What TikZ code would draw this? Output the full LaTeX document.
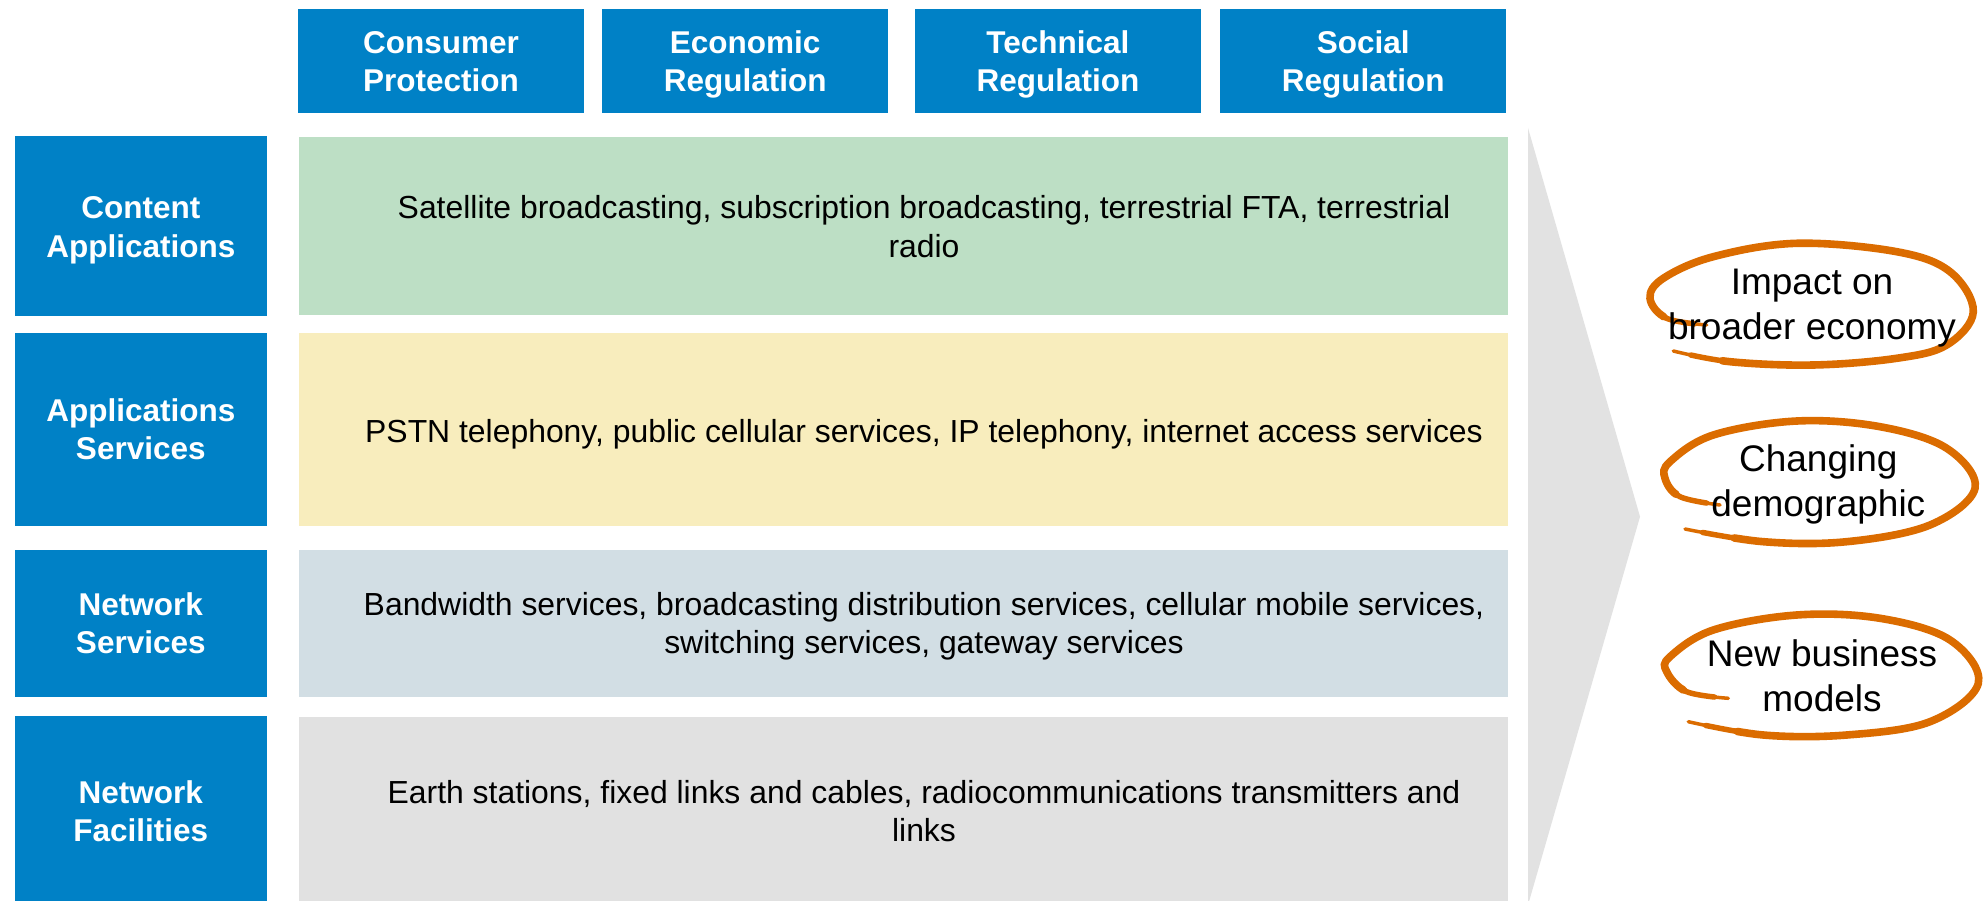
\documentclass[tikz,border=0pt]{standalone}
\usepackage{fontspec}
\setmainfont{Liberation Sans}
\definecolor{hdrblue}{RGB}{0,129,198}
\definecolor{bandgreen}{RGB}{189,223,197}
\definecolor{bandyellow}{RGB}{248,237,189}
\definecolor{bandblue}{RGB}{210,222,228}
\definecolor{bandgray}{RGB}{225,225,225}
\definecolor{chevgray}{RGB}{226,226,226}
\definecolor{loop}{RGB}{219,108,0}
% stacked lines whose baseline is the first line
\newcommand\stk[1]{\begin{tabular}[t]{@{}c@{}}#1\end{tabular}}
\tikzset{
  hdrtxt/.style={anchor=base, inner sep=0pt, text=white,
    font=\bfseries\fontsize{31.5}{38.4}\selectfont},
  bandtxt/.style={anchor=base, inner sep=0pt, text=black,
    font=\fontsize{31.9}{38.4}\selectfont},
  looptxt/.style={anchor=base, inner sep=0pt, text=black,
    font=\fontsize{37}{44.5}\selectfont},
  % brush stroke: thin full path, wider middle parts cut out with dashes
  brush1/.style={draw=loop, line width=3.5pt, line cap=round, line join=round},
  brush2/.style n args={2}{draw=loop, line width=5.5pt, line cap=round,
    dash pattern=on #1pt off 3000pt, dash phase=#2pt},
  brush3/.style n args={2}{draw=loop, line width=7.6pt, line cap=round,
    dash pattern=on #1pt off 3000pt, dash phase=#2pt},
}
\begin{document}
\begin{tikzpicture}[x=1pt,y=-1pt]
\useasboundingbox (0,0) rectangle (1986,901);
\clip (0,0) rectangle (1986,901);
\fill[white] (0,0) rectangle (1986,901);

% regulation headers
\fill[hdrblue] (298,9.3) rectangle (584,112.7);
\fill[hdrblue] (602.3,9.3) rectangle (888,112.7);
\fill[hdrblue] (915,9.3) rectangle (1200.7,112.7);
\fill[hdrblue] (1220.3,9.3) rectangle (1506,112.7);
\node[hdrtxt] (h1) at (441,53.3) {\stk{Consumer\\Protection}};
\node[hdrtxt] (h2) at (745.2,53.3) {\stk{Economic\\Regulation}};
\node[hdrtxt] (h3) at (1057.9,53.3) {\stk{Technical\\Regulation}};
\node[hdrtxt] (h4) at (1363.2,53.3) {\stk{Social\\Regulation}};

% layer labels
\fill[hdrblue] (14.5,136) rectangle (267,315.5);
\fill[hdrblue] (14.5,333) rectangle (267,525.7);
\fill[hdrblue] (14.5,550) rectangle (267,697);
\fill[hdrblue] (14.5,716) rectangle (267,910);
\node[hdrtxt] (l1) at (140.8,219) {\stk{Content\\Applications}};
\node[hdrtxt] (l2) at (140.8,421.5) {\stk{Applications\\Services}};
\node[hdrtxt] (l3) at (140.8,615.3) {\stk{Network\\Services}};
\node[hdrtxt] (l4) at (140.8,803.3) {\stk{Network\\Facilities}};

% layer contents
\fill[bandgreen] (299,137) rectangle (1508,314.7);
\fill[bandyellow] (299,333.3) rectangle (1508,525.7);
\fill[bandblue] (299,550) rectangle (1508,696.7);
\fill[bandgray] (299,717) rectangle (1508,910);
\node[bandtxt] (b1) at (924,219) {\stk{Satellite broadcasting, subscription broadcasting, terrestrial FTA, terrestrial\\radio}};
\node[bandtxt] (b2) at (924,442.5) {PSTN telephony, public cellular services, IP telephony, internet access services};
\node[bandtxt] (b3) at (924,615.3) {\stk{Bandwidth services, broadcasting distribution services, cellular mobile services,\\switching services, gateway services}};
\node[bandtxt] (b4) at (924,803.3) {\stk{Earth stations, fixed links and cables, radiocommunications transmitters and\\links}};

% chevron
\fill[chevgray] (1528,128) -- (1640,516.7) -- (1528,905) -- cycle;

% hand-drawn loops
\def\loopA{(1673.3,351) (1730,361.7) (1813.3,365) (1896.7,358.3) (1946.7,345) (1973.3,311.7) (1950,271.7) (1896.7,251.7) (1796.7,243.3) (1713.3,256.7) (1663.3,278.3) (1650,298.3) (1666.7,318.3) (1706.7,325)}
\def\loopB{(1685,529) (1763.3,541.7) (1846.7,541.7) (1930,525) (1975,488.3) (1946.7,448.3) (1880,426.7) (1796.7,421) (1713.3,435) (1670,461.7) (1665,478.3) (1680,496.7) (1720,505)}
\def\loopC{(1688.3,721.7) (1763.3,735) (1846.7,735) (1930,721.7) (1978.3,683.3) (1950,640) (1880,618.3) (1796.7,615) (1713.3,630) (1670,656.7) (1666.7,671.7) (1686.7,691.7) (1728.3,698.3)}

\path[brush1] plot[smooth, tension=0.6] coordinates {\loopA};
\path[brush2={729}{3711}] plot[smooth, tension=0.6] coordinates {\loopA};
\path[brush3={665}{3615}] plot[smooth, tension=0.6] coordinates {\loopA};

\path[brush1] plot[smooth, tension=0.6] coordinates {\loopB};
\path[brush2={702}{3684}] plot[smooth, tension=0.6] coordinates {\loopB};
\path[brush3={638}{3588}] plot[smooth, tension=0.6] coordinates {\loopB};

\path[brush1] plot[smooth, tension=0.6] coordinates {\loopC};
\path[brush2={712}{3694}] plot[smooth, tension=0.6] coordinates {\loopC};
\path[brush3={648}{3598}] plot[smooth, tension=0.6] coordinates {\loopC};

% loop captions
\node[looptxt] (e1) at (1812,294.5) {\stk{Impact on\\broader economy}};
\node[looptxt] (e2) at (1818.3,471.5) {\stk{Changing\\demographic}};
\node[looptxt] (e3) at (1822,666.5) {\stk{New business\\models}};
\end{tikzpicture}
\end{document}
